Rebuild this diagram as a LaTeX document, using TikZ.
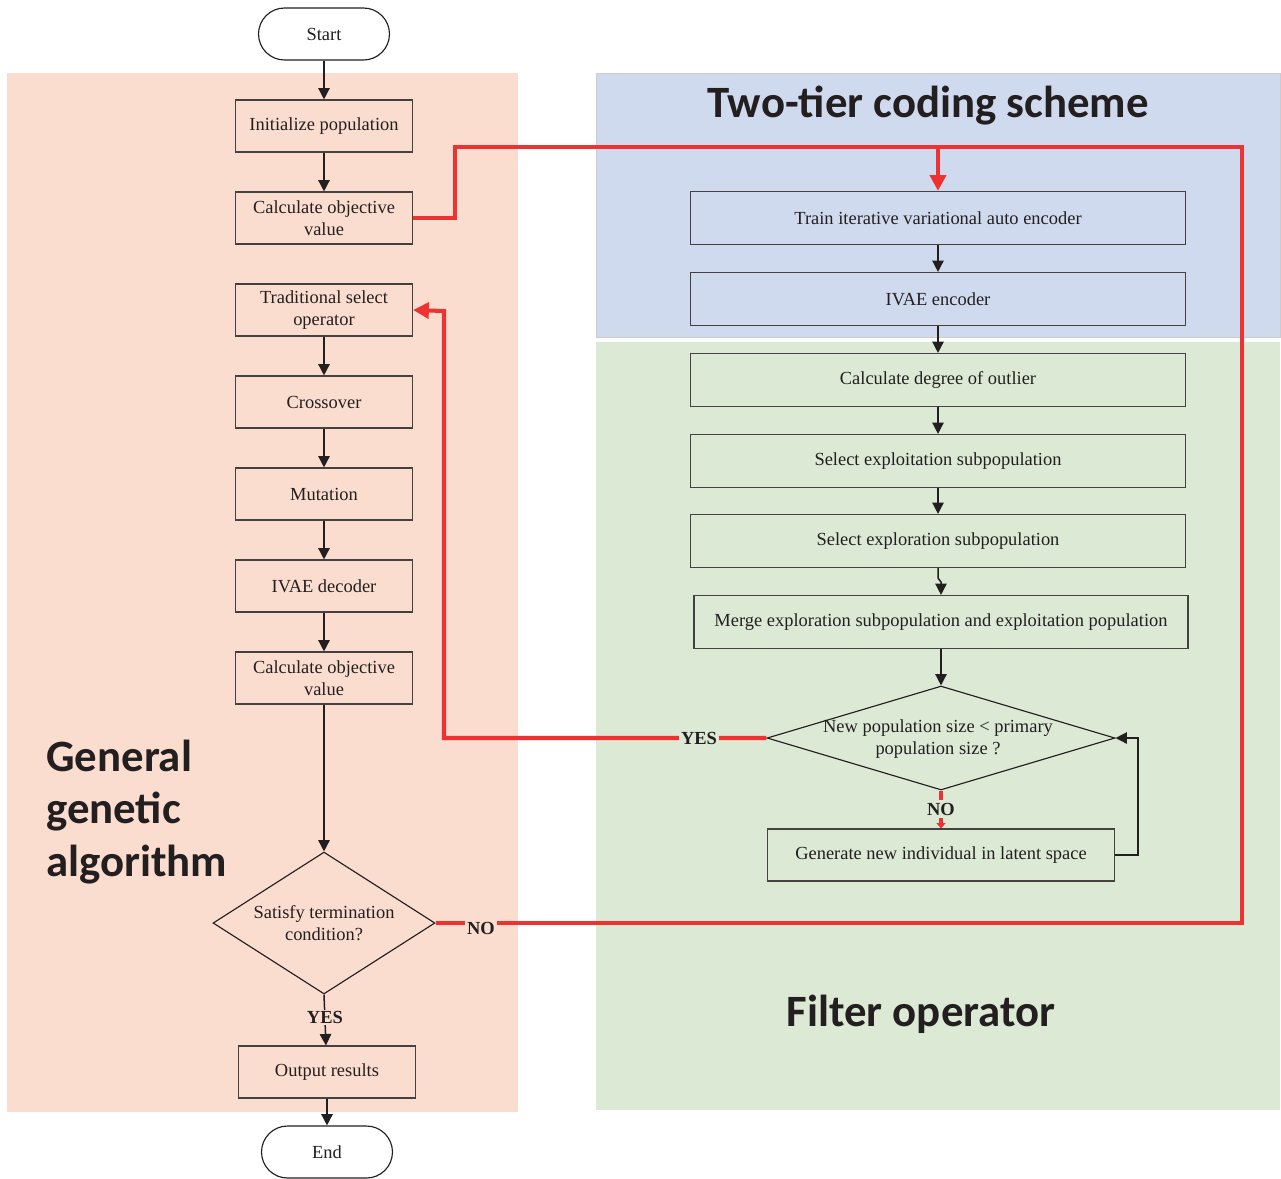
\documentclass[tikz,border=0pt]{standalone}
\usepackage{fontspec}
\setmainfont{Liberation Serif}
\newfontfamily\headfont{Carlito}
\usetikzlibrary{arrows.meta,shapes.geometric}
\definecolor{peach}{HTML}{FADDCF}
\definecolor{paleblue}{HTML}{D0DAEE}
\definecolor{palegreen}{HTML}{DBE9D5}
\definecolor{flowred}{HTML}{EE3232}
\definecolor{ink}{HTML}{231F20}
\tikzset{
  stepbox/.style={draw=ink!85, line width=0.65pt, rectangle, inner sep=2pt,
    font=\fontsize{10.5}{12.5}\selectfont, text=ink, align=center},
  leftbox/.style={stepbox, minimum width=3.54cm, minimum height=1.04cm},
  rightbox/.style={stepbox, minimum width=9.9cm, minimum height=1.06cm},
  terminal/.style={draw=ink, line width=0.65pt, rounded corners=0.52cm,
    minimum width=2.62cm, minimum height=1.04cm, font=\fontsize{10.5}{12.5}\selectfont, text=ink},
  decision/.style={draw=ink, line width=0.65pt, diamond, inner sep=0pt},
  dtext/.style={font=\fontsize{10.5}{12.5}\selectfont, text=ink, align=center},
  flow/.style={draw=ink, line width=0.85pt, -{Triangle[length=6.5pt,width=6.5pt]}},
  redline/.style={draw=flowred, line width=2.3pt},
  tag/.style={font=\bfseries\fontsize{10.5}{12}\selectfont, text=ink, inner sep=1pt},
  heading/.style={font=\headfont\bfseries\fontsize{25.5}{30}\selectfont, text=ink}
}
\begin{document}
\begin{tikzpicture}[x=0.02cm,y=-0.02cm]
\useasboundingbox (0,0) rectangle (1281,1178);

% panels
\fill[peach] (7,73) rectangle (518,1112);
\fill[paleblue] (596,73) rectangle (1280,337);
\draw[black!20, line width=0.4pt] (596,73) rectangle (1280,337);
\fill[palegreen] (596,342) rectangle (1280,1110);

% headings
\node[heading] (hcode) at (928,106) {Two-tier coding scheme};
\node[heading] (hfilter) at (921,1014) {Filter operator};
\node[heading, align=left, anchor=west, inner sep=0pt] (hga) at (46,812) {General\\genetic\\algorithm};

% left column
\node[terminal, fill=white] (start) at (324,34) {Start};
\node[leftbox] (init) at (324,126) {Initialize population};
\node[leftbox] (calc1) at (324,218) {Calculate objective\\value};
\node[leftbox] (sel) at (324,310) {Traditional select\\operator};
\node[leftbox] (cross) at (324,402) {Crossover};
\node[leftbox] (mut) at (324,494) {Mutation};
\node[leftbox] (dec) at (324,586) {IVAE decoder};
\node[leftbox] (calc2) at (324,678) {Calculate objective\\value};
\node[decision, minimum width=4.44cm, minimum height=2.84cm] (term) at (324,923) {};
\node[dtext] (termt) at (324,923) {Satisfy termination\\condition?};
\node[leftbox] (out) at (327,1072) {Output results};
\node[terminal, fill=white] (end) at (327,1152) {End};

% right column
\node[rightbox] (train) at (938,218) {Train iterative variational auto encoder};
\node[rightbox] (enc) at (938,299) {IVAE encoder};
\node[rightbox] (deg) at (938,380) {Calculate degree of outlier};
\node[rightbox] (expl) at (938,461) {Select exploitation subpopulation};
\node[rightbox] (explr) at (938,541) {Select exploration subpopulation};
\node[rightbox, minimum width=9.88cm] (merge) at (941,622) {Merge exploration subpopulation and exploitation population};
\node[decision, minimum width=6.96cm, minimum height=2.08cm] (size) at (941,738) {};
\node[dtext] (sizet) at (938,739) {New population size < primary\\population size ?};
\node[stepbox, minimum width=6.94cm, minimum height=1.04cm] (gen) at (941,855) {Generate new individual in latent space};

% black connectors
\draw[flow] (start) -- (init);
\draw[flow] (init) -- (calc1);
\draw[flow] (sel) -- (cross);
\draw[flow] (cross) -- (mut);
\draw[flow] (mut) -- (dec);
\draw[flow] (dec) -- (calc2);
\draw[flow] (calc2) -- (term.north);
\draw[flow] (term.south) -- node[tag, fill=peach, pos=0.45] (yes1) {YES} (out);
\draw[flow] (out) -- (end);
\draw[flow] (train) -- (enc);
\draw[flow] (enc) -- (deg);
\draw[flow] (deg) -- (expl);
\draw[flow] (expl) -- (explr);
\draw[flow] (explr.south) -- ++(0,10) -- (941,582) -- (merge.north);
\draw[flow] (merge) -- (size.north);
\coordinate (loopr) at (1138,855);
\draw[flow] (gen.east) -- (loopr) |- (size.east);

% red feedback paths
\coordinate (join) at (938,147);
\coordinate (rtop) at (1242,147);
\coordinate (rbot) at (1242,923);
\draw[redline, line join=miter] (calc1.east) -| (455,147) -- (rtop) -- (rbot) -- (term.east);
\node[tag, fill=peach] (no1) at (481,928) {NO};
\draw[redline, -{Triangle[length=9pt,width=9pt]}] (join) -- (train.north);
\draw[redline, line join=miter, -{Triangle[length=9pt,width=9pt]}] (size.west) -| (444,311) -- (sel.east);
\node[tag, fill=palegreen] (yes2) at (699,738) {YES};
\draw[draw=flowred, line width=1.8pt, -{Triangle[length=3pt,width=5pt]}] (size.south) -- (gen.north);
\node[tag, fill=palegreen, minimum height=26\pgflinewidth] (no2) at (941,809) {NO};
\end{tikzpicture}
\end{document}
